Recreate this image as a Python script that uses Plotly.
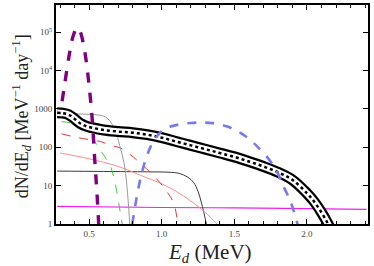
import plotly.graph_objects as go

# ---- data (log10 of dN/dE values) ----
total_E = [0.28, 0.32, 0.36, 0.40, 0.44, 0.48, 0.52, 0.60, 0.70, 0.80, 0.90, 1.00, 1.10, 1.20, 1.30, 1.40, 1.50, 1.60, 1.70, 1.80, 1.90, 2.00, 2.05, 2.10, 2.145, 2.17]
total_lg = [2.90, 2.89, 2.85, 2.74, 2.62, 2.55, 2.51, 2.45, 2.41, 2.38, 2.33, 2.25, 2.15, 2.05, 1.95, 1.85, 1.75, 1.63, 1.50, 1.35, 1.15, 0.80, 0.58, 0.30, 0.0, -0.2]

purple_E = [0.314, 0.33, 0.35, 0.37, 0.39, 0.417, 0.44, 0.46, 0.48, 0.50, 0.52, 0.54, 0.555, 0.566, 0.575]
purple_lg = [3.20, 3.60, 4.10, 4.55, 4.90, 5.12, 5.00, 4.70, 4.25, 3.60, 2.80, 1.60, 0.75, 0.0, -0.5]

blue_E = [0.797, 0.83, 0.865, 0.90, 0.934, 0.97, 1.015, 1.10, 1.20, 1.28, 1.35, 1.45, 1.545, 1.65, 1.773, 1.84, 1.89, 1.935]
blue_lg = [0.0, 0.75, 1.37, 1.80, 2.10, 2.30, 2.47, 2.58, 2.635, 2.645, 2.63, 2.54, 2.37, 2.05, 1.50, 0.97, 0.55, 0.0]

gray_E = [0.28, 0.40, 0.50, 0.57, 0.61, 0.64, 0.68, 0.71, 0.74, 0.76, 0.78]
gray_lg = [2.86, 2.87, 2.86, 2.84, 2.80, 2.70, 2.45, 2.05, 1.60, 1.00, 0.0]

green_E = [0.31, 0.40, 0.46, 0.50, 0.53, 0.56, 0.60, 0.647, 0.68, 0.704, 0.728]
green_lg = [2.67, 2.62, 2.54, 2.38, 2.20, 2.02, 1.80, 1.50, 1.05, 0.54, 0.0]

red_E = [0.31, 0.40, 0.50, 0.578, 0.65, 0.716, 0.78, 0.854, 0.92, 0.992, 1.04, 1.083, 1.11]
red_lg = [2.35, 2.27, 2.20, 2.15, 2.05, 1.98, 1.82, 1.58, 1.35, 1.06, 0.82, 0.54, 0.0]

salmon_E = [0.30, 0.50, 0.70, 0.90, 1.00, 1.10, 1.20, 1.30, 1.38]
salmon_lg = [1.85, 1.70, 1.50, 1.20, 1.05, 0.85, 0.60, 0.30, 0.0]

dgray_E = [0.28, 0.60, 0.90, 1.05, 1.12, 1.18, 1.22, 1.25, 1.27, 1.29, 1.307]
dgray_lg = [1.38, 1.37, 1.36, 1.35, 1.32, 1.22, 1.08, 0.85, 0.60, 0.30, 0.0]

magenta_E = [0.28, 1.00, 1.50, 2.00, 2.41]
magenta_lg = [0.46, 0.43, 0.42, 0.40, 0.38]

x_tickvals = [0.5, 1.0, 1.5, 2.0]
x_ticktext = ["0.5", "1.0", "1.5", "2.0"]
y_tickvals = [1, 10, 100, 1000, 1e4, 1e5]
y_ticktext = ["1", "10", "100", "1000", "10<sup>4</sup>", "10<sup>5</sup>"]
x_title = "<i>E<sub>d</sub></i> (MeV)"
y_title = "dN/dE<sub><i>d</i></sub> [MeV<sup>−1</sup> day<sup>−1</sup>]"


def lin(lg):
    return [10 ** v for v in lg]


fig = go.Figure()


def add(E, lg, color, width, dash="solid"):
    fig.add_trace(go.Scatter(x=E, y=lin(lg), mode="lines", line_shape="spline",
                             line=dict(color=color, width=width, dash=dash),
                             hoverinfo="skip", showlegend=False))


# thin components
add(magenta_E, magenta_lg, "#ee22ee", 1.2)
add(dgray_E, dgray_lg, "#3a3a3a", 1)
add(salmon_E, salmon_lg, "#ff8c8c", 1)
add(red_E, red_lg, "#ee3333", 1, "dash")
add(green_E, green_lg, "#44cc44", 1, "dash")
add(gray_E, gray_lg, "#9a9a9a", 1)

# total band
add(total_E, total_lg, "black", 11)
add(total_E, total_lg, "white", 6.5)
add(total_E, total_lg, "black", 2.5, "dot")

# big dashed ones
add(blue_E, blue_lg, "#7878f0", 2.6, "dash")
add(purple_E, purple_lg, "#800080", 3.4, "dash")

font_serif = "Liberation Serif, Times New Roman, serif"

fig.update_layout(
    width=374, height=266,
    margin=dict(l=56, r=6, t=5, b=42),
    plot_bgcolor="white", paper_bgcolor="white",
    font=dict(family=font_serif, color="#333"),
    annotations=[
        dict(text=x_title, xref="paper", yref="paper", x=0.495, y=-0.133,
             xanchor="center", yanchor="middle", showarrow=False,
             font=dict(size=21, family=font_serif, color="#222")),
        dict(text=y_title, xref="paper", yref="paper", x=-0.11, y=0.49,
             xanchor="center", yanchor="middle", showarrow=False, textangle=-90,
             font=dict(size=18, family=font_serif, color="#222")),
    ],
)
fig.update_xaxes(
    range=[0.272, 2.42], tickvals=x_tickvals, ticktext=x_ticktext,
    ticks="inside", ticklen=5, tickwidth=1.2, tickcolor="black",
    minor=dict(dtick=0.1, ticks="inside", ticklen=3, tickcolor="black", tickwidth=1),
    showline=True, linecolor="black", linewidth=2, mirror="allticks",
    showgrid=False, zeroline=False, automargin=False,
    tickfont=dict(size=9, family=font_serif, color="#444"),
)
fig.update_yaxes(
    type="log", range=[0, 5.71], tickvals=y_tickvals, ticktext=y_ticktext,
    ticks="inside", ticklen=5, tickwidth=1.2, tickcolor="black",
    showline=True, linecolor="black", linewidth=2, mirror="allticks",
    showgrid=False, zeroline=False, automargin=False,
    tickfont=dict(size=9, family=font_serif, color="#444"),
)

fig.write_html("out.html", config={"displayModeBar": False},
               post_script="document.body.style.margin='0';document.body.style.overflow='hidden';")
